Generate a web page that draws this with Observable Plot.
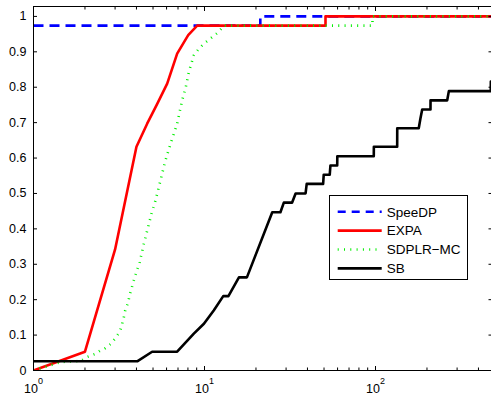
<!DOCTYPE html>
<html><head><meta charset="utf-8">
<script src="https://cdn.jsdelivr.net/npm/d3@7"></script>
<script src="https://cdn.jsdelivr.net/npm/@observablehq/plot@0.6"></script>
<style>
html,body{margin:0;padding:0;background:#fff;}
#chart{width:491px;height:396px;overflow:hidden;}
</style></head><body><div id="chart"></div>
<script>
// ---- data (performance profile) ----
const seriesNames = ["SpeeDP", "EXPA", "SDPLR−MC", "SB"];

const speedpX = [1, 21.2, 21.2, 480];
const speedpY = [0.974, 0.974, 1, 1];

const expaX = [1, 2, 3, 4, 4.62, 5.29, 6.05, 6.92, 8.03, 9.06, 51, 51, 480];
const expaY = [0, 0.053, 0.342, 0.632, 0.697, 0.753, 0.81, 0.895, 0.947, 0.974, 0.974, 1, 1];

const sdplrX = [1, 1.2, 1.45, 1.9, 2.05, 2.3, 2.45, 2.63, 2.83, 3.0, 3.14, 3.24, 3.36, 3.44, 3.56, 3.69, 3.86, 4.18, 4.42, 4.9, 5.17, 5.53, 5.91, 6.33, 6.92, 7.4, 7.74, 8.1, 8.66, 9.28, 9.92, 10.8, 12.1, 12.96, 96, 96, 480];
const sdplrY = [0, 0.012, 0.024, 0.027, 0.038, 0.047, 0.056, 0.063, 0.075, 0.09, 0.104, 0.118, 0.146, 0.17, 0.19, 0.221, 0.254, 0.306, 0.358, 0.443, 0.48, 0.537, 0.593, 0.64, 0.697, 0.763, 0.796, 0.843, 0.89, 0.909, 0.923, 0.937, 0.956, 0.974, 0.974, 1, 1];

const sbX = [1, 4.04, 4.94, 6.92, 8.66, 9.92, 11.35, 12.87, 13.8, 15.9, 17.7, 24.9, 27.8, 29.1, 32.5, 34.1, 39, 39.6, 49.4, 49.8, 54, 54.5, 59.7, 59.8, 97.7, 97.8, 133.9, 134, 179, 183, 187.5, 209.7, 209.8, 262.6, 268.5, 472, 472.5, 480];
const sbY = [0.026, 0.026, 0.053, 0.053, 0.104, 0.132, 0.17, 0.21, 0.21, 0.263, 0.263, 0.447, 0.447, 0.474, 0.474, 0.5, 0.5, 0.527, 0.527, 0.553, 0.553, 0.579, 0.579, 0.605, 0.605, 0.632, 0.632, 0.684, 0.684, 0.711, 0.737, 0.737, 0.763, 0.763, 0.789, 0.789, 0.816, 0.816];

const xMajorTicks = [1, 10, 100];
const xMinorTicks = [2, 3, 4, 5, 6, 7, 8, 9, 20, 30, 40, 50, 60, 70, 80, 90, 200, 300, 400];
const yTicks = [0, 0.1, 0.2, 0.3, 0.4, 0.5, 0.6, 0.7, 0.8, 0.9, 1];

// ---- styles ----
const styles = [
  {color: "#0000ff", dash: "10,6", legendDash: "8,6"},
  {color: "#ff0000", dash: null, legendDash: null},
  {color: "#00ee00", dash: "1,5.3", legendDash: "1,5.3"},
  {color: "#000000", dash: null, legendDash: null}
];
const toRows = (xs, ys) => xs.map((t, i) => ({t, v: ys[i]}));
const series = [toRows(speedpX, speedpY), toRows(expaX, expaY), toRows(sdplrX, sdplrY), toRows(sbX, sbY)];

const font = "'Liberation Sans', Arial, Helvetica, sans-serif";
const lineMarks = series.map((rows, i) => Plot.line(rows, {
  x: "t", y: "v", stroke: styles[i].color, strokeWidth: 2.6,
  strokeDasharray: styles[i].dash, strokeLinecap: styles[i].dash ? "butt" : "round",
  strokeLinejoin: "round", clip: true
}));

const chart = Plot.plot({
  width: 491, height: 396,
  marginLeft: 33, marginRight: -0.5, marginTop: 6, marginBottom: 26,
  style: {fontFamily: font, fontSize: "12.5px", color: "black", background: "white", overflow: "hidden"},
  x: {type: "log", domain: [1, 480]},
  y: {domain: [0, 1.028]},
  marks: [
    ...lineMarks,
    Plot.frame({stroke: "black", strokeWidth: 1}),
    Plot.axisX({ticks: xMajorTicks, tickSize: -4, tickPadding: 17.3, tickFormat: d => `10^${Math.round(Math.log10(d))}`, label: null, fontSize: 12.5}),
    Plot.axisX({ticks: xMinorTicks, tickSize: -2.5, fill: "none", label: null}),
    Plot.axisX({anchor: "top", ticks: xMajorTicks, tickSize: -4, fill: "none", label: null}),
    Plot.axisX({anchor: "top", ticks: xMinorTicks, tickSize: -2.5, fill: "none", label: null}),
    Plot.axisY({ticks: yTicks, tickSize: -4, tickPadding: 11, tickFormat: d => String(+d.toFixed(1)), label: null, fontSize: 12.5}),
    Plot.axisY({anchor: "right", ticks: yTicks, tickSize: -4, fill: "none", label: null})
  ]
});
document.getElementById("chart").appendChild(chart);

// superscript exponents on x tick labels
d3.select(chart).selectAll("text").each(function () {
  const s = this.textContent;
  if (!s.includes("^")) return;
  const [b, e] = s.split("^");
  this.textContent = b;
  d3.select(this).append("tspan").attr("dy", "-8.5").attr("font-size", "9px").text(e);
});

// legend box inside the plot
const lg = d3.select(chart).append("g").attr("font-family", font).attr("font-size", "13.5px").attr("text-anchor", "start");
lg.append("rect").attr("x", 329.5).attr("y", 195.5).attr("width", 138).attr("height", 84)
  .attr("fill", "white").attr("stroke", "black").attr("stroke-width", 1);
seriesNames.forEach((name, i) => {
  const cy = 211.7 + i * 18.9;
  lg.append("line").attr("x1", 337.7).attr("x2", 381.7).attr("y1", cy).attr("y2", cy)
    .attr("stroke", styles[i].color).attr("stroke-width", 2.6)
    .attr("stroke-dasharray", styles[i].legendDash)
    .attr("stroke-linecap", "butt");
  lg.append("text").attr("x", 386.7).attr("y", cy).attr("dy", "0.36em").attr("text-anchor", "start").attr("fill", "black").text(name);
});
</script>
</body></html>
